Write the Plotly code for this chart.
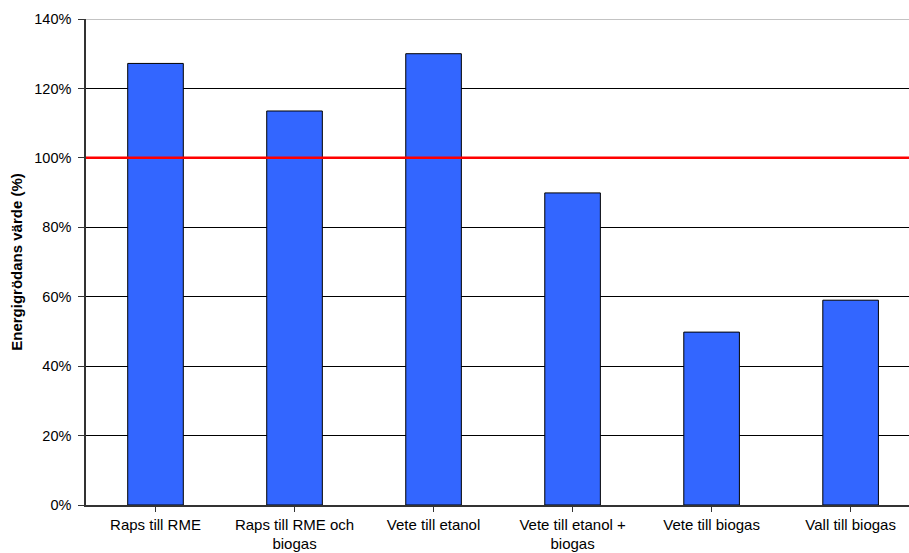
import plotly.graph_objects as go

categories = ["Raps till RME", "Raps till RME och<br>biogas", "Vete till etanol",
              "Vete till etanol +<br>biogas", "Vete till biogas", "Vall till biogas"]
values = [127.2, 113.5, 130.0, 89.9, 49.8, 59.0]
reference_level = 100
y_ticks = [0, 20, 40, 60, 80, 100, 120, 140]
y_tick_labels = [f"{v}%" for v in y_ticks]

fig = go.Figure()
fig.add_trace(go.Bar(
    x=list(range(len(categories))), y=values,
    marker=dict(color="#3366FF", line=dict(color="black", width=1)),
    width=0.4,
))
fig.add_shape(type="line", xref="paper", x0=0, x1=1, yref="y", y0=reference_level, y1=reference_level,
              line=dict(color="#FF0000", width=2.5), layer="above")
fig.add_shape(type="line", xref="paper", x0=0, x1=1, yref="y", y0=140, y1=140,
              line=dict(color="#888888", width=1), layer="above")

fig.update_layout(
    width=909, height=553,
    margin=dict(l=86, r=0, t=19, b=48),
    plot_bgcolor="white", paper_bgcolor="white",
    font=dict(family="Liberation Sans, Arial", size=15, color="black"),
    showlegend=False,
)
fig.update_xaxes(
    tickmode="array", tickvals=list(range(len(categories))), ticktext=categories,
    range=[-0.5, 5.42], showline=True, linecolor="#333333", linewidth=1.5,
    ticks="outside", tickson="boundaries", ticklen=5, tickcolor="#333333",
    showgrid=False, zeroline=False, tickfont=dict(size=15),
    automargin=False,
)
fig.update_yaxes(
    range=[0, 140], tickmode="array", tickvals=y_ticks, ticktext=y_tick_labels,
    showline=True, linecolor="#333333", linewidth=1.5,
    ticks="outside", ticklen=6, tickcolor="#333333",
    showgrid=True, gridcolor="black", gridwidth=1, zeroline=False,
    title=dict(text="<b>Energigrödans värde (%)</b>", font=dict(size=15), standoff=8),
    tickfont=dict(size=14.5), ticklabelstandoff=4, automargin=False,
)
fig.write_html("out.html")
